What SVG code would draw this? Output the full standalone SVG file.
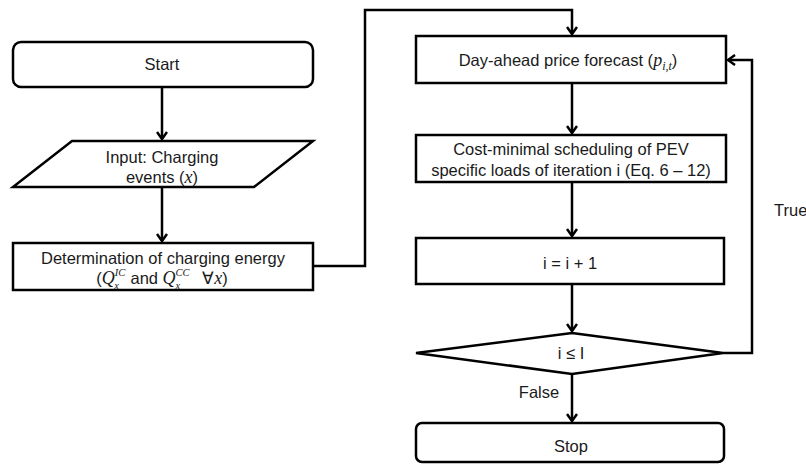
<svg xmlns="http://www.w3.org/2000/svg" width="806" height="464" viewBox="0 0 806 464">
<defs>
<marker id="arr" markerWidth="12" markerHeight="12" refX="9" refY="6" orient="auto" markerUnits="userSpaceOnUse">
<path d="M2,1 L9,6 L2,11" fill="none" stroke="#000" stroke-width="2.5"/>
</marker>
<style>
.box{fill:#fff;stroke:#000;stroke-width:2.5}
.t{font-family:"Liberation Sans",Arial,sans-serif;font-size:16.5px;fill:#1a1a1a;text-anchor:middle}
.m{font-family:"Liberation Serif","Times New Roman",serif;font-style:italic}
.c{fill:none;stroke:#000;stroke-width:2.5}
</style>
</defs>
<rect width="806" height="464" fill="#fff"/>
<g id="connectors">
<path class="c" d="M162,87 V139" marker-end="url(#arr)"/>
<path class="c" d="M162,187 V241" marker-end="url(#arr)"/>
<path class="c" d="M313,266 H365 V10 H572 V34" marker-end="url(#arr)"/>
<path class="c" d="M572,83 V133" marker-end="url(#arr)"/>
<path class="c" d="M572,182 V236" marker-end="url(#arr)"/>
<path class="c" d="M572,284 V331" marker-end="url(#arr)"/>
<path class="c" d="M723,353 H752 V60 H728" marker-end="url(#arr)"/>
<path class="c" d="M572,374 V421" marker-end="url(#arr)"/>
<text class="t" x="774" y="216" style="text-anchor:start">True</text>
<text class="t" x="539" y="398">False</text>
</g>
<g id="start">
<rect class="box" x="13" y="42" width="300" height="45" rx="8"/>
<text class="t" x="162" y="70">Start</text>
</g>
<g id="input">
<polygon class="box" points="72,141 313,141 254,187 13,187"/>
<text class="t" x="162" y="163">Input: Charging</text>
<text class="t" x="162" y="183">events (<tspan class="m" font-size="18">x</tspan>)</text>
</g>
<g id="determination">
<rect class="box" x="13" y="243" width="300" height="47"/>
<text class="t" x="163" y="264">Determination of charging energy</text>
<text class="t" x="162" y="284">(<tspan class="m" font-size="18">Q</tspan><tspan class="m" font-size="10.5" dy="-8">IC</tspan><tspan class="m" font-size="10.5" dx="-11" dy="13">x</tspan><tspan dx="7" dy="-5"> and </tspan><tspan class="m" font-size="18">Q</tspan><tspan class="m" font-size="10.5" dy="-8">CC</tspan><tspan class="m" font-size="10.5" dx="-14" dy="13">x</tspan><tspan dx="22" dy="-5">∀</tspan><tspan class="m" font-size="18">x</tspan>)</text>
</g>
<g id="forecast">
<rect class="box" x="416" y="36" width="310" height="47"/>
<text class="t" x="568" y="66">Day-ahead price forecast (<tspan class="m" font-size="18">p</tspan><tspan class="m" font-size="12" dy="4">i,t</tspan><tspan dy="-4">)</tspan></text>
</g>
<g id="scheduling">
<rect class="box" x="416" y="135" width="310" height="47"/>
<text class="t" x="571" y="155">Cost-minimal scheduling of PEV</text>
<text class="t" x="571" y="176">specific loads of iteration i (Eq. 6 – 12)</text>
</g>
<g id="increment">
<rect class="box" x="416" y="238" width="308" height="46"/>
<text class="t" x="570" y="269">i = i + 1</text>
</g>
<g id="decision">
<polygon class="box" points="572,333 723,353 572,374 416,353"/>
<text class="t" x="571" y="359">i ≤ I</text>
</g>
<g id="stop">
<rect class="box" x="416" y="423" width="308" height="39" rx="6"/>
<text class="t" x="571" y="452">Stop</text>
</g>
</svg>
